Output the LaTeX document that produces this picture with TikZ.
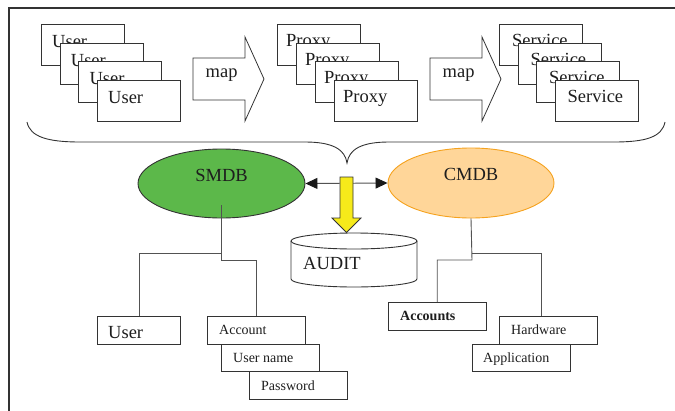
\documentclass[tikz,border=0pt]{standalone}
\usepackage{fontspec}
\setmainfont{Liberation Serif}
\usetikzlibrary{arrows.meta,shapes.geometric}
\definecolor{lncol}{HTML}{333333}
\definecolor{txtcol}{HTML}{1E1E1E}
\definecolor{smdbfill}{HTML}{5CB84A}
\definecolor{cmdbfill}{HTML}{FFD699}
\definecolor{cmdbline}{HTML}{F5A21E}
\definecolor{yelfill}{HTML}{F6EA1A}
\tikzset{
  tbox/.style={draw=lncol, line width=0.9pt, fill=white, minimum width=83pt, minimum height=41pt, inner sep=0pt, anchor=north west},
  sbox/.style={draw=lncol, line width=0.9pt, fill=white, minimum width=97.5pt, minimum height=27.5pt, inner sep=0pt, anchor=north west},
  ubox/.style={sbox, minimum width=83pt},
  bigtxt/.style={font=\fontsize{18.5}{20}\selectfont, text=txtcol, inner sep=0pt, anchor=base west},
  smtxt/.style={font=\fontsize{14}{16}\selectfont, text=txtcol, inner sep=0pt, anchor=base west},
  conn/.style={draw=lncol!85, line width=0.9pt},
  bigarrow/.style={draw=lncol, line width=0.8pt, fill=white},
  tip/.tip={Triangle[length=12pt,width=11pt,color=black!90]},
}
\begin{document}
\begin{tikzpicture}[x=1pt,y=-1pt]
\useasboundingbox (0,0) rectangle (675,410);
% frame
\draw[lncol, line width=1.4pt] (9,420) -- (9,8) -- (680,8);

% User stack
\node[tbox] (u1) at (41,24) {};
\node[bigtxt] (u1t) at (52,47.5) {User};
\node[tbox] (u2) at (59.7,42.7) {};
\node[bigtxt] (u2t) at (70.7,66.2) {User};
\node[tbox] (u3) at (78.3,61.3) {};
\node[bigtxt] (u3t) at (89.3,84.8) {User};
\node[tbox] (u4) at (97,80) {};
\node[bigtxt] (u4t) at (108,103.5) {User};

% map arrow 1
\draw[bigarrow] (193,58) -- (245,58) -- (245,37) -- (264,79) -- (245,121) -- (245,100) -- (193,100) -- cycle;
\node[bigtxt] (m1) at (205.5,77.5) {map};

% Proxy stack
\node[tbox] (p1) at (277,24) {};
\node[bigtxt] (p1t) at (286,46.5) {Proxy};
\node[tbox] (p2) at (296,42.7) {};
\node[bigtxt] (p2t) at (305,65.2) {Proxy};
\node[tbox] (p3) at (315,61.3) {};
\node[bigtxt] (p3t) at (324,83.8) {Proxy};
\node[tbox] (p4) at (334,80) {};
\node[bigtxt] (p4t) at (343,102.5) {Proxy};

% map arrow 2
\draw[bigarrow] (430,58) -- (482,58) -- (482,37) -- (501,79) -- (482,121) -- (482,100) -- (430,100) -- cycle;
\node[bigtxt] (m2) at (442.5,77.5) {map};

% Service stack
\node[tbox] (s1) at (499,24) {};
\node[bigtxt] (s1t) at (512,46.5) {Service};
\node[tbox] (s2) at (517.5,42.7) {};
\node[bigtxt] (s2t) at (530.5,65.2) {Service};
\node[tbox] (s3) at (536,61.3) {};
\node[bigtxt] (s3t) at (549,83.8) {Service};
\node[tbox] (s4) at (554.5,80) {};
\node[bigtxt] (s4t) at (567.5,102.5) {Service};

% brace
\draw[lncol, line width=0.9pt] (27,122) .. controls (30,137) and (48,142) .. (80,142)
  -- (305,142) .. controls (332,142) and (345,149) .. (347,163)
  .. controls (349,149) and (362,142) .. (389,142)
  -- (614,142) .. controls (646,142) and (662,137) .. (665,122);

% databases
\node[ellipse, draw=lncol, line width=0.9pt, fill=smdbfill, minimum width=167pt, minimum height=69pt, inner sep=0pt] (smdb) at (221.5,183.5) {};
\node[bigtxt, anchor=base] (smdbt) at (221.5,181) {SMDB};
\node[ellipse, draw=cmdbline, line width=0.9pt, fill=cmdbfill, minimum width=166pt, minimum height=70pt, inner sep=0pt] (cmdb) at (471,183) {};
\node[bigtxt, anchor=base] (cmdbt) at (471,180.7) {CMDB};

\draw[conn, tip-tip] (smdb.east) -- (cmdb.west);

% AUDIT cylinder
\draw[draw=lncol, line width=0.9pt, fill=white] (291,241) -- (291,279) arc (180:360:63pt and 8pt) -- (417,241);
\draw[draw=lncol, line width=0.9pt, fill=white] (354,241) ellipse (63pt and 8pt);
\node[bigtxt] (audit) at (303,269.3) {AUDIT};

% yellow arrow
\draw[draw=lncol, line width=0.8pt, fill=yelfill] (340,177) -- (353,177) -- (353,218) -- (361,218) -- (346.5,232.5) -- (332,218) -- (340,218) -- cycle;

% SMDB subtree
\node[ubox] (usr) at (97,316) {};
\node[bigtxt] (usrt) at (108,338) {User};
\node[sbox] (acc) at (207,316) {};
\node[smtxt] (acct) at (219,334.5) {Account};
\node[sbox] (uname) at (221,343.5) {};
\node[smtxt] (unamet) at (233,362) {User name};
\node[sbox] (pwd) at (249,371) {};
\node[smtxt] (pwdt) at (261,390) {Password};

\coordinate (sstart) at (221.5,205);
\coordinate (sk) at (221.5,253);
\coordinate (sj) at (221.5,260);
\draw[conn] (sstart) -- (sj) -| (acc.north);
\draw[conn] (sk) -| (usr.north);

% CMDB subtree
\node[sbox] (accs) at (388,302) {};
\node[smtxt, font=\fontsize{14}{16}\selectfont\bfseries] (accst) at (400,320) {Accounts};
\node[sbox] (hw) at (499,316) {};
\node[smtxt] (hwt) at (511,334.3) {Hardware};
\node[sbox] (app) at (472,343.5) {};
\node[smtxt] (appt) at (483,362) {Application};

\coordinate (cj1) at (472,253);
\coordinate (cj2) at (472,260);
\coordinate (hwtop) at (541,316);
\draw[conn] (cmdb.south) -- (cj2) -| (accs.north);
\draw[conn] (cj1) -| (hwtop);
\end{tikzpicture}
\end{document}
